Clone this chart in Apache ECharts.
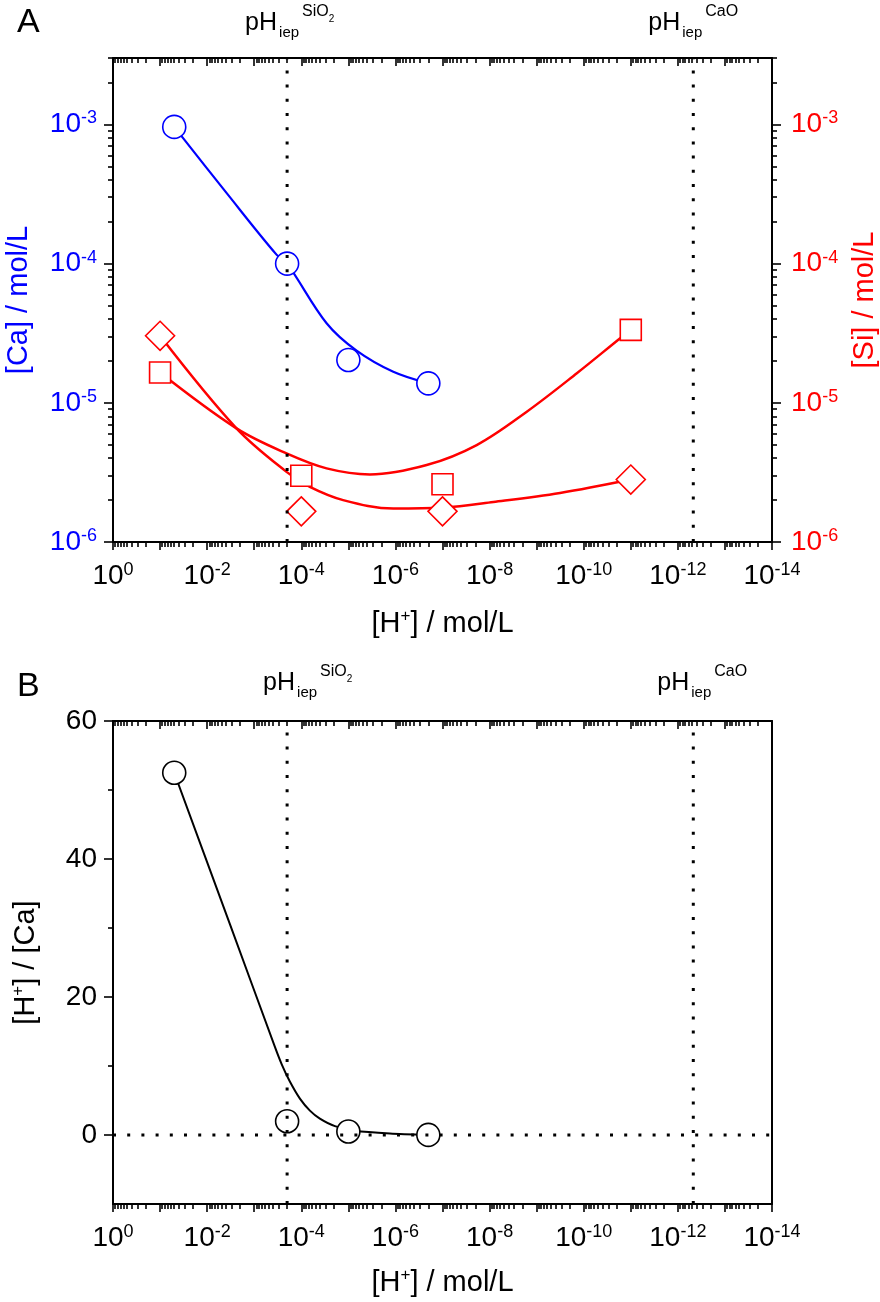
<!DOCTYPE html>
<html><head><meta charset="utf-8">
<script src="https://cdn.jsdelivr.net/npm/echarts@6/dist/echarts.min.js"></script>
<style>html,body{margin:0;padding:0;background:#fff}#c{width:880px;height:1302px}</style>
</head><body><div id="c"></div><script>
// ---------------- data ----------------
const hCa = [0.05, 2e-4, 1e-5, 2e-7];              // [H+] for Ca points
const caConc = [9.6e-4, 1.0e-4, 2.03e-5, 1.38e-5]; // [Ca] mol/L
const hSi = [0.1, 1e-4, 1e-7, 1e-11];              // [H+] for Si points
const siSquare = [1.65e-5, 2.99e-6, 2.6e-6, 3.34e-5];
const siDiamond = [3.03e-5, 1.66e-6, 1.66e-6, 2.81e-6];
const hRatio = [0.05, 2e-4, 1e-5, 2e-7];
const ratio = [52.5, 2.0, 0.5, 0.0145];            // [H+]/[Ca]
// fitted curves as drawn in the reference
const caFit = [[0.05,9.6e-4],[3.88e-3,3.22e-4],[3.36e-4,1.16e-4],[2e-4,1e-4],[2.9e-5,3.73e-5],[6.68e-6,2.37e-5],[1.11e-6,1.67e-5],[2e-7,1.38e-5]];
const squareFit = [[0.1,1.65e-5],[2.38e-3,6.55e-6],[2.06e-4,4.33e-6],[2.9e-5,3.38e-6],[3.48e-6,3.06e-6],[2.17e-7,3.57e-6],[1.88e-8,4.97e-6],[1.62e-9,8.63e-6],[1.4e-10,1.63e-5],[1.68e-11,2.91e-5],[1e-11,3.34e-5]];
const diamondFit = [[0.1,3.03e-5],[2.38e-3,6.55e-6],[2.06e-4,3.19e-6],[6.57e-5,2.49e-6],[1.29e-5,2.0e-6],[1.11e-6,1.74e-6],[9.6e-8,1.77e-6],[8.3e-9,1.94e-6],[3.18e-10,2.25e-6],[1e-11,2.81e-6]];
const ratioFit = [[0.05,52.5],[3.30e-3,30.6],[3.65e-4,12.8],[2.59e-4,10.2],[1.75e-4,7.74],[1.07e-4,5.27],[6.56e-5,3.53],[4.03e-5,2.37],[1.93e-5,1.28],[7.26e-6,0.62],[1.31e-6,0.22],[2e-7,0.0145]];
const iepSiO2 = 2.0e-4;   // pH_iep SiO2
const iepCaO = 4.7e-13;   // pH_iep CaO
// axis ranges
const xMin = 1e-14, xMax = 1;
const yMinA = 1e-6, yMaxA = 3e-3;
const yMinB = -10, yMaxB = 60;
// tick definitions
const xTickExp = [0,-1,-2,-3,-4,-5,-6,-7,-8,-9,-10,-11,-12,-13,-14];
const xLabelExp = [0,-2,-4,-6,-8,-10,-12,-14];
const yTickExpA = [-6,-5,-4,-3];
const yTicksB = [0,20,40,60];
const yMinorB = [10,30,50];
const minorMult = [2,3,4,5,6,7,8,9];

// ---------------- helpers ----------------
const FONT = '"Liberation Sans", Arial, Helvetica, sans-serif';
const pow10 = e => parseFloat('1e' + e);
const xMajor = xTickExp.map(pow10);
const xLabels = xLabelExp.map(pow10);
const yMajorA = yTickExpA.map(pow10);
function minorValues(exps, maxV) {
  const out = [];
  exps.forEach(e => minorMult.forEach(m => { const v = parseFloat(m + 'e' + e); if (v <= maxV * 1.000001) out.push(v); }));
  return out;
}
const xMinor = minorValues([-14,-13,-12,-11,-10,-9,-8,-7,-6,-5,-4,-3,-2,-1], xMax);
const yMinorA = minorValues([-6,-5,-4,-3], yMaxA);
const fmtPow = v => '{b|10}{e|' + Math.round(Math.log10(v)) + '}';
const powRich = c => ({
  b: {fontSize: 28, fontFamily: FONT, color: c, lineHeight: 30},
  e: {fontSize: 18, fontFamily: FONT, color: c, lineHeight: 12, verticalAlign: 'top'}
});
const AX = {color: '#000', width: 2};
const TK = {color: '#000', width: 1.6};
const TITLE = 29;

function xAxesFor(grid, nameGap) {
  const base = {type: 'log', logBase: 10, min: xMin, max: xMax, inverse: true, gridIndex: grid,
    splitLine: {show: false}, minorTick: {show: false}, minorSplitLine: {show: false}};
  return [
    Object.assign({}, base, {position: 'bottom',
      axisLine: {show: true, onZero: false, lineStyle: AX},
      axisTick: {show: true, inside: false, length: 8, lineStyle: TK, customValues: xMajor},
      axisLabel: {show: true, customValues: xLabels, formatter: fmtPow, margin: 19, rich: powRich('#000')},
      name: '{n|[H}{s|+}{n|] / mol/L}', nameLocation: 'middle', nameGap: nameGap,
      nameTextStyle: {rich: {n: {fontSize: TITLE, fontFamily: FONT, color: '#000', lineHeight: 32},
                             s: {fontSize: 17, fontFamily: FONT, color: '#000', lineHeight: 16, verticalAlign: 'top'}}}}),
    Object.assign({}, base, {position: 'bottom',
      axisLine: {show: false, onZero: false},
      axisTick: {show: true, inside: false, length: 5, lineStyle: TK, customValues: xMinor},
      axisLabel: {show: false}}),
    Object.assign({}, base, {position: 'top',
      axisLine: {show: true, onZero: false, lineStyle: AX},
      axisTick: {show: true, inside: true, length: 8, lineStyle: TK, customValues: xMajor},
      axisLabel: {show: false}}),
    Object.assign({}, base, {position: 'top',
      axisLine: {show: false, onZero: false},
      axisTick: {show: true, inside: true, length: 5, lineStyle: TK, customValues: xMinor},
      axisLabel: {show: false}})
  ];
}

const logYBase = {type: 'log', logBase: 10, min: yMinA, max: yMaxA, gridIndex: 0,
  splitLine: {show: false}, minorTick: {show: false}};

const yAxes = [
  // 0: A left major
  Object.assign({}, logYBase, {position: 'left',
    axisLine: {show: true, onZero: false, lineStyle: AX},
    axisTick: {show: true, length: 9, lineStyle: TK, customValues: yMajorA},
    axisLabel: {show: true, customValues: yMajorA, formatter: fmtPow, margin: 16, rich: powRich('#0000ff')},
    name: '[Ca] / mol/L', nameLocation: 'middle', nameGap: 80, nameRotate: 90,
    nameTextStyle: {fontSize: TITLE, fontFamily: FONT, color: '#0000ff'}}),
  // 1: A left minor
  Object.assign({}, logYBase, {position: 'left',
    axisLine: {show: false, onZero: false},
    axisTick: {show: true, length: 5, lineStyle: TK, customValues: yMinorA},
    axisLabel: {show: false}}),
  // 2: A right major
  Object.assign({}, logYBase, {position: 'right',
    axisLine: {show: true, onZero: false, lineStyle: AX},
    axisTick: {show: true, length: 9, lineStyle: TK, customValues: yMajorA},
    axisLabel: {show: true, customValues: yMajorA, formatter: fmtPow, margin: 19, rich: powRich('#ff0000')},
    name: '[Si] / mol/L', nameLocation: 'middle', nameGap: 78, nameRotate: 90,
    nameTextStyle: {fontSize: TITLE, fontFamily: FONT, color: '#ff0000'}}),
  // 3: A right minor
  Object.assign({}, logYBase, {position: 'right',
    axisLine: {show: false, onZero: false},
    axisTick: {show: true, length: 5, lineStyle: TK, customValues: yMinorA},
    axisLabel: {show: false}}),
  // 4: B left major
  {type: 'value', min: yMinB, max: yMaxB, gridIndex: 1, position: 'left', splitLine: {show: false},
    axisLine: {show: true, onZero: false, lineStyle: AX},
    axisTick: {show: true, length: 9, lineStyle: TK, customValues: yTicksB},
    axisLabel: {show: true, customValues: yTicksB, margin: 16, fontSize: 28, fontFamily: FONT, color: '#000'},
    name: '{n|[H}{s|+}{n|] / [Ca]}', nameLocation: 'middle', nameGap: 71, nameRotate: 90,
    nameTextStyle: {rich: {n: {fontSize: TITLE, fontFamily: FONT, color: '#000', lineHeight: 32},
                           s: {fontSize: 17, fontFamily: FONT, color: '#000', lineHeight: 16, verticalAlign: 'top'}}}},
  // 5: B left minor
  {type: 'value', min: yMinB, max: yMaxB, gridIndex: 1, position: 'left', splitLine: {show: false},
    axisLine: {show: false, onZero: false},
    axisTick: {show: true, length: 5, lineStyle: TK, customValues: yMinorB},
    axisLabel: {show: false}},
  // 6: B right (frame only)
  {type: 'value', min: yMinB, max: yMaxB, gridIndex: 1, position: 'right', splitLine: {show: false},
    axisLine: {show: true, onZero: false, lineStyle: AX},
    axisTick: {show: false}, axisLabel: {show: false}}
];

const xAxes = xAxesFor(0, 66).concat(xAxesFor(1, 63));

const dotted = {color: '#000', width: 3, type: [3, 11.2], cap: 'butt'};
const hollow = (c, bw) => ({color: '#fff', borderColor: c, borderWidth: bw, opacity: 1});
const zipXY = (xs, ys) => xs.map((x, i) => [x, ys[i]]);
const refLine = (xi, yi, data) => ({type: 'line', xAxisIndex: xi, yAxisIndex: yi, data: data,
  showSymbol: false, symbol: 'none', silent: true, lineStyle: dotted, z: 10});

const option = {
  animation: false,
  backgroundColor: '#fff',
  grid: [
    {left: 113, top: 58, right: 108, height: 484, outerBoundsMode: 'none', containLabel: false},
    {left: 113, top: 721, right: 108, height: 483, outerBoundsMode: 'none', containLabel: false}
  ],
  xAxis: xAxes,
  yAxis: yAxes,
  series: [
    {type: 'line', name: 'Ca fit', xAxisIndex: 0, yAxisIndex: 0, data: caFit, smooth: 0.35, showSymbol: false,
      lineStyle: {color: '#0000ff', width: 2.2}, z: 2},
    {type: 'line', name: 'Si square fit', xAxisIndex: 0, yAxisIndex: 2, data: squareFit, smooth: 0.35, showSymbol: false,
      lineStyle: {color: '#ff0000', width: 2.5}, z: 2},
    {type: 'line', name: 'Si diamond fit', xAxisIndex: 0, yAxisIndex: 2, data: diamondFit, smooth: 0.35, showSymbol: false,
      lineStyle: {color: '#ff0000', width: 2.5}, z: 2},
    {type: 'line', name: 'ratio fit', xAxisIndex: 4, yAxisIndex: 4, data: ratioFit, smooth: 0.25, showSymbol: false,
      lineStyle: {color: '#000', width: 2}, z: 2},
    {type: 'scatter', name: 'Ca', xAxisIndex: 0, yAxisIndex: 0, data: zipXY(hCa, caConc),
      symbol: 'circle', symbolSize: 23, itemStyle: hollow('#0000ff', 1.6), z: 3},
    {type: 'scatter', name: 'Si square', xAxisIndex: 0, yAxisIndex: 2, data: zipXY(hSi, siSquare),
      symbol: 'rect', symbolSize: 21, itemStyle: hollow('#ff0000', 1.6), z: 3},
    {type: 'scatter', name: 'Si diamond', xAxisIndex: 0, yAxisIndex: 2, data: zipXY(hSi, siDiamond),
      symbol: 'diamond', symbolSize: 29, itemStyle: hollow('#ff0000', 1.6), z: 3},
    {type: 'scatter', name: 'ratio', xAxisIndex: 4, yAxisIndex: 4, data: zipXY(hRatio, ratio),
      symbol: 'circle', symbolSize: 23, itemStyle: hollow('#000', 1.6), z: 3},
    refLine(0, 0, [[iepSiO2, yMinA], [iepSiO2, yMaxA]]),
    refLine(0, 0, [[iepCaO, yMinA], [iepCaO, yMaxA]]),
    refLine(4, 4, [[iepSiO2, yMinB], [iepSiO2, yMaxB]]),
    refLine(4, 4, [[iepCaO, yMinB], [iepCaO, yMaxB]]),
    refLine(4, 4, [[xMax, 0], [xMin, 0]])
  ]
};

const chart = echarts.init(document.getElementById('c'), null, {renderer: 'canvas'});
chart.setOption(option);

// annotation labels positioned from the axis scale
const iepRich = {
  p: {fontSize: 25, fontFamily: FONT, color: '#000', lineHeight: 25, verticalAlign: 'top', padding: [11, 2, 0, 0]},
  i: {fontSize: 15, fontFamily: FONT, color: '#000', lineHeight: 15, verticalAlign: 'top', padding: [25, 3, 0, 0]},
  s: {fontSize: 16, fontFamily: FONT, color: '#000', lineHeight: 16, verticalAlign: 'top', padding: [4, 0, 0, 0]},
  t: {fontSize: 10, fontFamily: FONT, color: '#000', lineHeight: 10, verticalAlign: 'top', padding: [14, 0, 0, 0]}
};
function iepText(xPix, dx, top, sup, sub) {
  return {type: 'text', x: xPix + dx, y: top, silent: true,
    style: {text: '{p|pH}{i|iep}{s|' + sup + '}' + (sub ? '{t|' + sub + '}' : ''), rich: iepRich,
      align: 'left', verticalAlign: 'top'}};
}
const sA = chart.convertToPixel({xAxisIndex: 0}, iepSiO2);
const cA = chart.convertToPixel({xAxisIndex: 0}, iepCaO);
const sB = chart.convertToPixel({xAxisIndex: 4}, iepSiO2);
const cB = chart.convertToPixel({xAxisIndex: 4}, iepCaO);
chart.setOption({graphic: [
  {type: 'text', x: 17, y: 23, silent: true, style: {text: 'A', fontSize: 34, fontFamily: FONT, fill: '#000', align: 'left', verticalAlign: 'middle'}},
  {type: 'text', x: 17, y: 687, silent: true, style: {text: 'B', fontSize: 34, fontFamily: FONT, fill: '#000', align: 'left', verticalAlign: 'middle'}},
  iepText(sA, -42, 0, 'SiO', '2'),
  iepText(cA, -45, 0, 'CaO', ''),
  iepText(sB, -24, 660, 'SiO', '2'),
  iepText(cB, -36, 660, 'CaO', '')
]});
</script></body></html>
